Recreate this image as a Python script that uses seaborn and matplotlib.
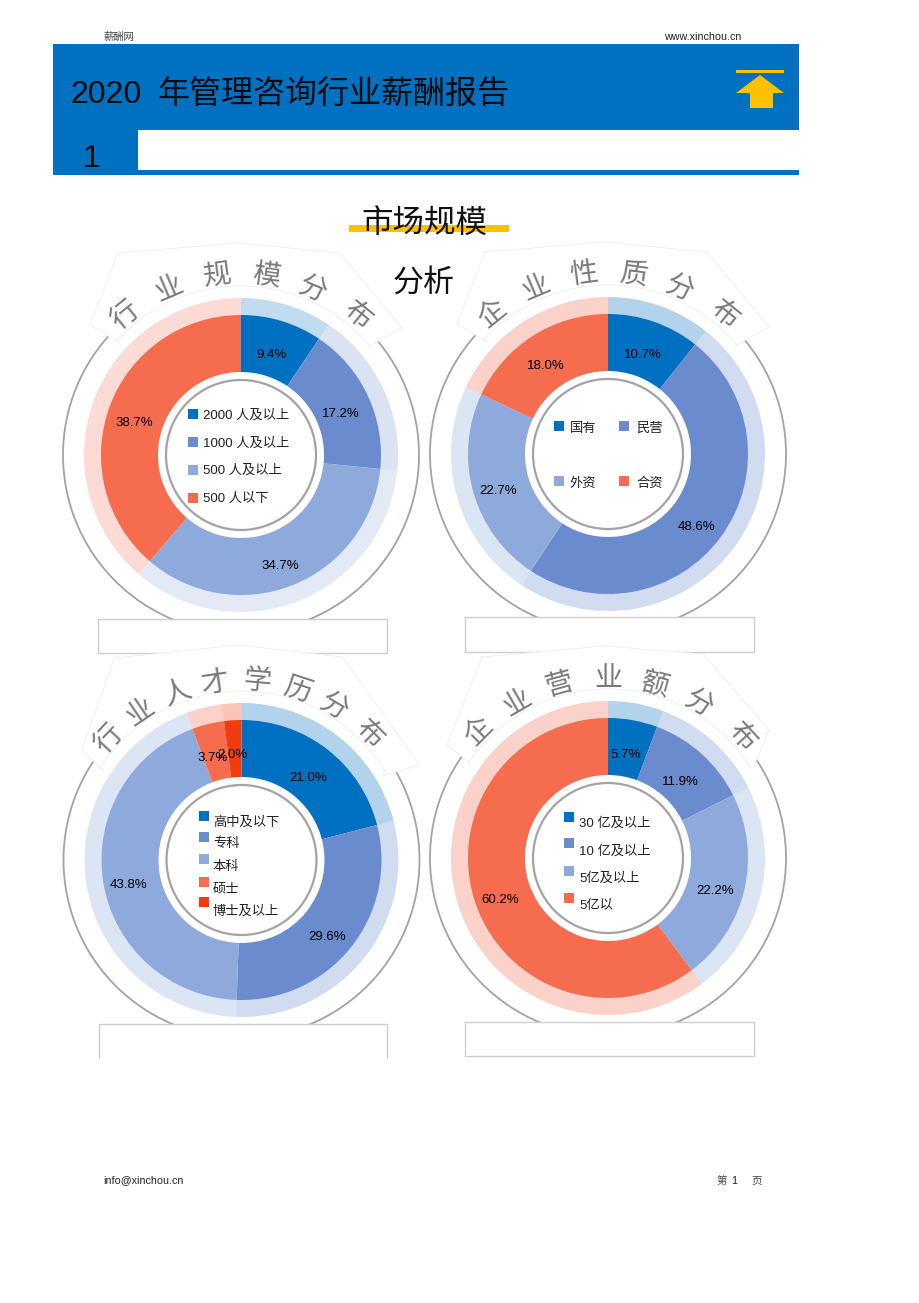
import numpy as np
import matplotlib
matplotlib.use("Agg")
import matplotlib.pyplot as plt
from matplotlib.patches import Circle, Rectangle, Polygon
import seaborn as sns

# ---- data ----
titles = ["行业规模分布", "企业性质分布", "行业人才学历分布", "企业营业额分布"]
cats_size = ["2000 人及以上", "1000 人及以上", "500 人及以上", "500 人以下"]
vals_size = [9.4, 17.2, 34.7, 38.7]
cats_type = ["国有", "民营", "外资", "合资"]
vals_type = [10.7, 48.6, 22.7, 18.0]
cats_edu = ["高中及以下", "专科", "本科", "硕士", "博士及以上"]
vals_edu = [21.0, 29.6, 43.8, 3.7, 2.0]
cats_rev = ["30 亿及以上", "10 亿及以上", "5亿及以上", "5亿以"]
vals_rev = [5.7, 11.9, 22.2, 60.2]
col_blue, col_mid, col_light, col_orange, col_red = "#0070C0", "#6B8BCF", "#8EA9DB", "#F56C4E", "#F23C10"
colors4 = [col_blue, col_mid, col_light, col_orange]
colors5 = [col_blue, col_mid, col_light, col_orange, col_red]
report_year = "2020"
report_title = "年管理咨询行业薪酬报告"
section_title = "市场规模"
section_sub = "分析"

sns.set_theme(style="white")
sns.set_palette(sns.color_palette(colors5))
CJK = ["Liberation Sans", "Noto Sans CJK SC", "DejaVu Sans"]
plt.rcParams["font.family"] = CJK

W, H = 920, 1303
fig = plt.figure(figsize=(W / 100, H / 100), dpi=100, facecolor="white")
ax = fig.add_axes([0, 0, 1, 1])


def Y(y):
    return H - y


def pt(px):
    return px * 0.72


GRAY = "#A3A3A3"


def rect(x0, y0, x1, y1, **kw):
    ax.add_patch(Rectangle((x0, Y(y1)), x1 - x0, y1 - y0, **kw))


def panel(z, cx, cy, values, cats, colors, title, angles, textr, banner, box, pale,
          squares, labels, box_bottom=True):
    cyy = Y(cy)
    # outer thin ring
    ax.add_patch(Circle((cx, cyy), 178, fill=False, ec=GRAY, lw=1.3, zorder=z))
    # banner
    lft, pts_top, rgt = banner
    a0 = np.arctan2(lft[1], lft[0])
    a1 = np.arctan2(rgt[1], rgt[0])
    th = np.linspace(a1, a0, 40)
    arc = np.c_[cx + 169 * np.cos(th), cyy - 169 * np.sin(th)]
    poly = [(cx + dx, cyy - dy) for dx, dy in pts_top]
    ax.add_patch(Polygon(np.vstack([poly, arc]), closed=True, fc="white", ec="#EDEDED",
                         lw=0.6, zorder=z + 1))
    for ch, ang in zip(title, angles):
        r = np.radians(ang)
        ax.text(cx + textr * np.sin(r), cyy + textr * np.cos(r) - 3, ch, rotation=-ang,
                rotation_mode="anchor", ha="center", va="center", fontsize=pt(28),
                color="#7A7A7A", family=["Noto Sans CJK SC"], zorder=z + 2)
    # pale ring + solid ring through pie
    ax.pie(values, radius=157, center=(cx, cyy), colors=colors, startangle=90, counterclock=False,
           normalize=True, wedgeprops=dict(width=18, alpha=pale, lw=0, zorder=z + 3))
    it = iter(values)
    _, _, autotexts = ax.pie(values, radius=140, center=(cx, cyy), colors=colors, startangle=90,
                             counterclock=False, normalize=True, pctdistance=0.80,
                             autopct=lambda p: f"{next(it):.1f}%",
                             wedgeprops=dict(width=57, lw=0, zorder=z + 4),
                             textprops=dict(fontsize=pt(13.3), color="black", zorder=z + 6))
    for t in autotexts:
        x, y = t.get_position()
        t.set_position((x - 2, y - 7))
    # inner ring
    ax.add_patch(Circle((cx, cyy), 75, fill=False, ec=GRAY, lw=1.6, zorder=z + 5))
    # legend
    for c, col, (sx, sy), (tx, ty) in zip(cats, colors, squares, labels):
        ax.add_patch(Rectangle((sx - 5, Y(sy) - 5), 10, 10, fc=col, ec="none", zorder=z + 6))
        ax.text(tx, Y(ty + 1), c, ha="left", va="center", fontsize=pt(13.3), color="#222222", zorder=z + 6)
    # lower box
    x0, y0, x1, y1 = box
    rect(x0, y0, x1, y1, fc="white", ec="none", zorder=z + 7)
    ax.plot([x0, x0, x1, x1], [Y(y1), Y(y0), Y(y0), Y(y1)], color="#CFCFCF", lw=1, zorder=z + 8)
    if box_bottom:
        ax.plot([x0, x1], [Y(y1), Y(y1)], color="#CFCFCF", lw=1, zorder=z + 8)


b1 = ((-121, -112), [(-121, -112), (-151, -130), (-123, -202), (-3, -212), (99, -202), (161, -127), (127, -108)], (127, -108))
b3 = ((-138, -89), [(-138, -89), (-160, -110), (-127, -202), (-3, -215), (101, -203), (178, -95), (141, -84)], (141, -84))
b4 = ((-138, -95), [(-138, -95), (-161, -113), (-126, -201), (-3, -212), (95, -204), (161, -128), (146, -92)], (146, -92))

ang6 = [-39, -23, -7.5, 8, 23, 39]
ang8 = [-47, -34, -20.6, -8.4, 5, 18, 30.6, 44.6]
ang7 = [-45, -30, -15.5, 0, 15, 30, 47]

panel(10, 241, 455, vals_size, cats_size, colors4, titles[0], ang6, 184, b1, (98, 619, 387, 653), 0.24,
      [(193, 414), (193, 442), (193, 470), (193, 498)],
      [(203, 415), (203, 443), (203, 470), (203, 498)])
panel(20, 608, 454, vals_type, cats_type, colors4, titles[1], ang6, 184, b1, (465, 617, 754, 652), 0.30,
      [(559, 426), (624, 426), (559, 481), (624, 481)],
      [(570, 428), (636, 428), (570, 483), (636, 483)])
panel(30, 241.5, 860, vals_edu, cats_edu, colors5, titles[2], ang8, 182, b3, (99, 1024, 387, 1058), 0.30,
      [(204, 816), (204, 837), (204, 859), (204, 882), (204, 902)],
      [(213, 822), (213, 843), (213, 866), (213, 888), (213, 911)], box_bottom=False)
panel(40, 608, 858, vals_rev, cats_rev, colors4, titles[3], ang7, 183, b4, (465, 1022, 754, 1056), 0.30,
      [(569, 817), (569, 843), (569, 871), (569, 898)],
      [(579, 822), (579, 850), (579, 877), (579, 905)])

# ---- header ----
Z = 100
rect(53, 44, 799, 130, fc=col_blue, ec="none", zorder=Z)
rect(53, 130, 138, 175, fc=col_blue, ec="none", zorder=Z)
rect(53, 170, 799, 175, fc=col_blue, ec="none", zorder=Z)
rect(736, 70, 784, 73, fc="#FFC000", ec="none", zorder=Z + 1)
ax.add_patch(Polygon([(760, Y(75)), (784, Y(93)), (773, Y(93)), (773, Y(108)), (750, Y(108)),
                      (750, Y(93)), (736, Y(93))], closed=True, fc="#FFC000", ec="none", zorder=Z + 1))
ax.text(70, Y(95), report_year, ha="left", va="center", fontsize=pt(32), color="#0A0A0A", zorder=Z + 2)
ax.text(157, Y(95), report_title, ha="left", va="center", fontsize=pt(32), color="#0A0A0A", zorder=Z + 2)
ax.text(92, Y(159), "1", ha="center", va="center", fontsize=pt(32), color="#0A0A0A", zorder=Z + 2)
rect(349, 225, 509, 232, fc="#FFC000", ec="none", zorder=Z)
ax.text(424, Y(224), section_title, ha="center", va="center", fontsize=pt(31.5), color="#111111", zorder=Z + 2)
ax.text(424, Y(284), section_sub, ha="center", va="center", fontsize=pt(31), color="#111111", zorder=Z + 2)

ax.text(103, Y(37), "薪酬网", ha="left", va="center", fontsize=pt(10.3), color="#444444", zorder=Z)
ax.text(664, Y(37), "www.xinchou.cn", ha="left", va="center", fontsize=pt(10.8), color="#222222", zorder=Z)
ax.text(103, Y(1180), "info@xinchou.cn", ha="left", va="center", fontsize=pt(10.8), color="#222222", zorder=Z)
ax.text(717, Y(1181), "第", ha="left", va="center", fontsize=pt(10.5), color="#444444", zorder=Z)
ax.text(734, Y(1181), "1", ha="center", va="center", fontsize=pt(10.8), color="#222222", zorder=Z)
ax.text(752, Y(1181), "页", ha="left", va="center", fontsize=pt(10.5), color="#444444", zorder=Z)

ax.set_aspect("auto")
ax.set_xlim(0, W)
ax.set_ylim(0, H)
ax.axis("off")
fig.savefig("out.png", dpi=100, facecolor="white")
